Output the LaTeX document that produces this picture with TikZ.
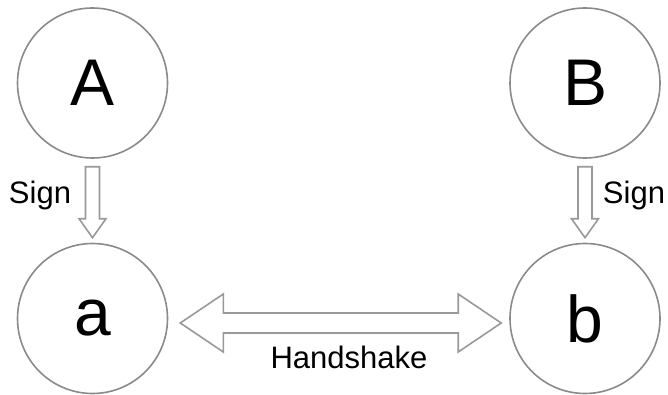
\documentclass[tikz,border=0pt]{standalone}
\usepackage{fontspec}
\setmainfont{Liberation Sans}
\usetikzlibrary{calc}
\definecolor{ringgray}{HTML}{8A8A8A}
\definecolor{arrgray}{HTML}{999999}
\tikzset{
  party/.style={circle, draw=ringgray, line width=1.6pt, minimum size=150pt, inner sep=0pt, font=\fontsize{66}{70}\selectfont},
  arrowline/.style={draw=arrgray, line width=1.6pt, line join=miter, fill=white},
  lbl/.style={font=\fontsize{31}{34}\selectfont, anchor=base, inner sep=0pt},
}
\begin{document}
\begin{tikzpicture}[x=1pt,y=-1pt]
\useasboundingbox (0,0) rectangle (668,395);
\node[party] (A) at (92.5,83) {A};
\node[party] (a) at (92.5,318.5) {a};
\node[party] (B) at (585,83) {B};
\node[party] (b) at (585,318.5) {b};
% Sign arrows
\draw[arrowline] let \p1=($(A.south)+(0,8)$), \p2=($(a.north)+(0,-5)$) in
  (\x1-7pt,\y1) -- (\x1+7pt,\y1) -- (\x1+7pt,\y2+19pt) -- (\x1+13.5pt,\y2+19pt) -- (\x2,\y2)
  -- (\x1-13.5pt,\y2+19pt) -- (\x1-7pt,\y2+19pt) -- cycle;
\draw[arrowline] let \p1=($(B.south)+(0,8)$), \p2=($(b.north)+(0,-5)$) in
  (\x1-7pt,\y1) -- (\x1+7pt,\y1) -- (\x1+7pt,\y2+19pt) -- (\x1+13.5pt,\y2+19pt) -- (\x2,\y2)
  -- (\x1-13.5pt,\y2+19pt) -- (\x1-7pt,\y2+19pt) -- cycle;
% Handshake double arrow
\draw[arrowline] let \p1=($(a.east)+(12,4.5)$), \p2=($(b.west)+(-8,4.5)$) in
  (\x1,\y1) -- (\x1+43pt,\y1+29pt) -- (\x1+43pt,\y1+10pt) -- (\x2-43pt,\y1+10pt) -- (\x2-43pt,\y1+29pt)
  -- (\x2,\y2) -- (\x2-43pt,\y1-29pt) -- (\x2-43pt,\y1-10pt) -- (\x1+43pt,\y1-10pt) -- (\x1+43pt,\y1-29pt) -- cycle;
\node[lbl] (s1) at (40,204) {Sign};
\node[lbl] (s2) at (634,204) {Sign};
\node[lbl] (hs) at (349,368) {Handshake};
\end{tikzpicture}
\end{document}
